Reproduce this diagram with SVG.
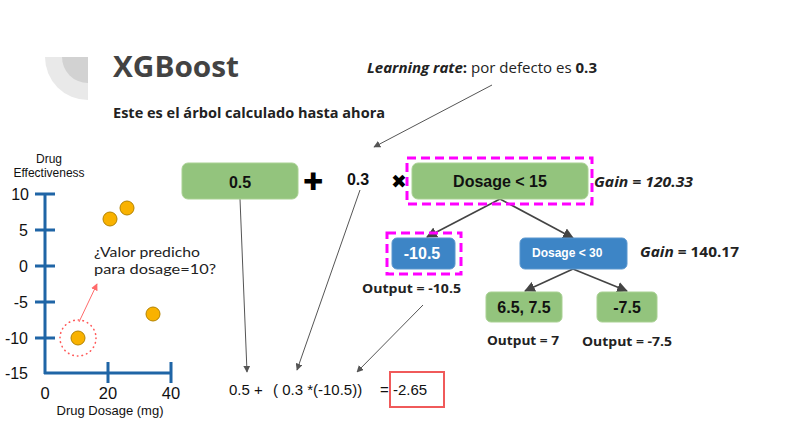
<svg xmlns="http://www.w3.org/2000/svg" width="789" height="427" viewBox="0 0 789 427">
  <defs>
    <marker id="arr" viewBox="0 0 10 10" refX="9" refY="5" markerWidth="7" markerHeight="7" orient="auto" markerUnits="userSpaceOnUse">
      <path d="M0,0 L10,5 L0,10 z" fill="#555"/>
    </marker>
    <marker id="arrBig" viewBox="0 0 10 10" refX="9" refY="5" markerWidth="11" markerHeight="11" orient="auto" markerUnits="userSpaceOnUse">
      <path d="M0,0 L10,5 L0,10 z" fill="#444"/>
    </marker>
    <marker id="arrRed" viewBox="0 0 10 10" refX="9" refY="5" markerWidth="7" markerHeight="7" orient="auto" markerUnits="userSpaceOnUse">
      <path d="M0,0 L10,5 L0,10 z" fill="#ff6b6b"/>
    </marker>
    <style>
      .sans { font-family: "Open Sans", "Liberation Sans", sans-serif; fill: #222; }
      .lato { font-family: Lato, "Liberation Sans", sans-serif; fill: #222; }
      .arial { font-family: "Liberation Sans", Arial, sans-serif; fill: #111; }
      .green { fill: #93c47d; stroke: #a9d193; stroke-width: 1; }
      .blue { fill: #3d85c6; stroke: #5b97cf; stroke-width: 1; }
      .sel { fill: none; stroke: #ff00ff; stroke-width: 3; stroke-dasharray: 9 5; }
      .box-label { font-family: "Liberation Sans", Arial, sans-serif; font-weight: bold; font-size: 16px; fill: #111; text-anchor: middle; }
      .axis { stroke: #1f65a6; stroke-width: 3; fill: none; }
      .pt { fill: #f9b200; stroke: #b48300; stroke-width: 1; }
      .thin { stroke: #555; stroke-width: 1; fill: none; }
      .tree { stroke: #444; stroke-width: 1.6; fill: none; }
    </style>
  </defs>

  <!-- header logo -->
  <g id="logo">
    <path d="M88,57 L45,57 A43,43 0 0 0 88,100 Z" fill="#e9e9e9"/>
    <path d="M88,57 L62,57 A26,26 0 0 0 88,83 Z" fill="#d2d2d2"/>
  </g>
  <text class="sans" x="113" y="77" font-size="28" font-weight="bold" style="fill:#434343" textLength="126" lengthAdjust="spacingAndGlyphs">XGBoost</text>
  <text class="sans" x="113" y="118" font-size="14" font-weight="bold" textLength="272" lengthAdjust="spacingAndGlyphs">Este es el árbol calculado hasta ahora</text>
  <text class="sans" x="367" y="73" font-size="14" textLength="230" lengthAdjust="spacingAndGlyphs"><tspan font-weight="bold" font-style="italic">Learning rate</tspan><tspan font-weight="bold">:</tspan> por defecto es <tspan font-weight="bold">0.3</tspan></text>

  <!-- scatter chart -->
  <g id="chart">
    <path class="axis" d="M45,193 V374 M44,373 H172 M35,194 H55 M35,230 H55 M35,266 H55 M35,302 H55 M35,338 H55 M108,362 V383 M171,362 V383"/>
    <g class="arial" font-size="16" text-anchor="end">
      <text x="29" y="200">10</text>
      <text x="28" y="236">5</text>
      <text x="28" y="272">0</text>
      <text x="28" y="308">-5</text>
      <text x="28" y="344">-10</text>
      <text x="28" y="379">-15</text>
    </g>
    <g class="arial" font-size="16.5" text-anchor="middle">
      <text x="45" y="399">0</text>
      <text x="108" y="399">20</text>
      <text x="171" y="399">40</text>
    </g>
    <text class="arial" x="110" y="415" font-size="13" text-anchor="middle">Drug Dosage (mg)</text>
    <text class="arial" x="49" y="163" font-size="12" text-anchor="middle">Drug</text>
    <text class="arial" x="49" y="177" font-size="12" text-anchor="middle">Effectiveness</text>
    <circle class="pt" cx="110" cy="219" r="7"/>
    <circle class="pt" cx="127" cy="208" r="7"/>
    <circle class="pt" cx="153" cy="314" r="7"/>
    <circle class="pt" cx="78" cy="338" r="7"/>
    <circle cx="78" cy="338" r="18" fill="none" stroke="#ff5a5a" stroke-width="1.6" stroke-dasharray="0.5 4.2" stroke-linecap="round"/>
    <line x1="79" y1="322" x2="97" y2="284" stroke="#ff6b6b" stroke-width="1" marker-end="url(#arrRed)"/>
    <text class="lato" x="94" y="257" font-size="14" textLength="106" lengthAdjust="spacingAndGlyphs">¿Valor predicho</text>
    <text class="lato" x="94" y="274" font-size="14" textLength="122" lengthAdjust="spacingAndGlyphs">para dosage=10?</text>
  </g>

  <!-- connectors -->
  <g id="connectors">
    <line class="thin" x1="492" y1="85" x2="374" y2="147" marker-end="url(#arr)"/>
    <line class="thin" x1="240" y1="199" x2="247" y2="372" marker-end="url(#arr)"/>
    <line class="thin" x1="360" y1="190" x2="297" y2="370" marker-end="url(#arr)"/>
    <line class="thin" x1="423" y1="305" x2="357" y2="372" marker-end="url(#arr)"/>
    <line class="tree" x1="500" y1="199" x2="427" y2="237" marker-end="url(#arrBig)"/>
    <line class="tree" x1="500" y1="199" x2="573" y2="238" marker-end="url(#arrBig)"/>
    <line class="tree" x1="573" y1="269" x2="525" y2="291" marker-end="url(#arrBig)"/>
    <line class="tree" x1="573" y1="269" x2="627" y2="291" marker-end="url(#arrBig)"/>
  </g>

  <!-- initial prediction -->
  <g id="node-base">
    <rect class="green" x="182" y="163" width="116" height="36" rx="6"/>
    <text class="box-label" x="240" y="188">0.5</text>
  </g>
  <g id="op-plus">
    <text x="313" y="190" font-family="DejaVu Sans, sans-serif" font-size="24" font-weight="bold" text-anchor="middle" fill="#000">✚</text>
  </g>
  <g id="learning-rate">
    <text class="box-label" x="358" y="185">0.3</text>
  </g>
  <g id="op-times">
    <text x="399" y="188" font-family="DejaVu Sans, sans-serif" font-size="19" font-weight="bold" text-anchor="middle" fill="#000">✖</text>
  </g>

  <!-- tree -->
  <g id="node-root">
    <rect class="green" x="412" y="163" width="176" height="36" rx="6"/>
    <rect class="sel" x="407" y="158" width="185" height="46"/>
    <text class="box-label" x="500" y="187">Dosage &lt; 15</text>
    <text class="sans" x="594" y="187" font-size="14" font-weight="bold" font-style="italic" textLength="99" lengthAdjust="spacingAndGlyphs">Gain = 120.33</text>
  </g>
  <g id="node-left">
    <rect class="blue" x="392" y="238" width="63" height="31" rx="5"/>
    <rect class="sel" x="387" y="233" width="74" height="41"/>
    <text class="box-label" x="422" y="259" style="fill:#fff">-10.5</text>
    <text class="sans" x="362" y="293" font-size="13" font-weight="bold" textLength="99" lengthAdjust="spacingAndGlyphs">Output = -10.5</text>
  </g>
  <g id="node-split">
    <rect class="blue" x="520" y="238" width="107" height="31" rx="5"/>
    <text class="arial" x="532" y="257" font-size="12" font-weight="bold" style="fill:#fff">Dosage &lt; 30</text>
    <text class="sans" x="640" y="257" font-size="14" font-weight="bold" textLength="99" lengthAdjust="spacingAndGlyphs"><tspan font-style="italic">Gain</tspan> = 140.17</text>
  </g>
  <g id="leaf-a">
    <rect class="green" x="486" y="292" width="76" height="30" rx="5"/>
    <text class="box-label" x="524" y="313">6.5, 7.5</text>
    <text class="sans" x="487" y="345" font-size="13" font-weight="bold" textLength="72" lengthAdjust="spacingAndGlyphs">Output = 7</text>
  </g>
  <g id="leaf-b">
    <rect class="green" x="597" y="292" width="60" height="30" rx="5"/>
    <text class="box-label" x="627" y="313">-7.5</text>
    <text class="sans" x="582" y="346" font-size="13" font-weight="bold" textLength="90" lengthAdjust="spacingAndGlyphs">Output = -7.5</text>
  </g>

  <!-- resulting prediction -->
  <g id="formula">
    <text class="arial" x="229" y="395" font-size="15">0.5 +</text>
    <text class="arial" x="273" y="395" font-size="15">( 0.3 *(-10.5))</text>
    <text class="arial" x="380" y="395" font-size="15">=</text>
    <rect x="390" y="372" width="54" height="35" fill="none" stroke="#f05a5a" stroke-width="2"/>
    <text class="arial" x="393" y="395" font-size="15">-2.65</text>
  </g>
</svg>
